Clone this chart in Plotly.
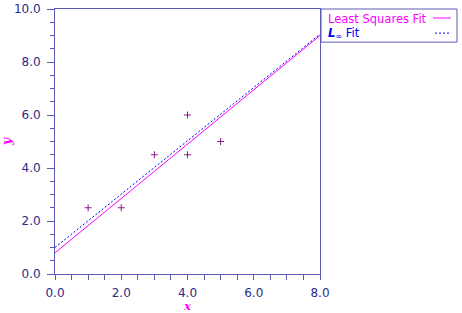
import plotly.graph_objects as go

x_pts = [1, 2, 3, 4, 4, 5]
y_pts = [2.5, 2.5, 4.5, 4.5, 6.0, 5.0]
fit_x = [0.0, 8.0]
ls_y = [0.8, 9.0]
linf_y = [1.0, 9.05]
x_ticks = [0, 2, 4, 6, 8]
y_ticks = [0, 2, 4, 6, 8, 10]

AXC = "#5a5ab4"
LBL = "#2b2b8a"
MAG = "#ff00ff"
BLU = "#0000ff"

fig = go.Figure()
fig.add_trace(go.Scatter(x=fit_x, y=ls_y, mode="lines", line=dict(color=MAG, width=1), showlegend=False))
fig.add_trace(go.Scatter(x=fit_x, y=linf_y, mode="lines", line=dict(color=BLU, width=1, dash="2px,2px"), showlegend=False))
fig.add_trace(go.Scatter(x=x_pts, y=y_pts, mode="markers",
                         marker=dict(symbol="cross-thin", size=5, line=dict(color="#8a1a8a", width=1)),
                         showlegend=False))

tickfont = dict(family="DejaVu Sans", size=12, color=LBL)
fig.update_layout(
    width=462, height=313,
    margin=dict(l=55, r=142, t=9, b=39),
    paper_bgcolor="white", plot_bgcolor="white",
    xaxis=dict(range=[0, 8], tickvals=x_ticks, ticktext=[f"{v:.1f}" for v in x_ticks],
               ticks="outside", ticklen=5, tickcolor=AXC, tickwidth=1, ticklabelstandoff=3,
               minor=dict(dtick=0.5, ticks="outside", ticklen=5, tickcolor=AXC),
               showline=True, linecolor=AXC, linewidth=1, mirror=True, automargin=False,
               showgrid=False, zeroline=False, tickfont=tickfont,
               title=dict(text="<b><i>x</i></b>", font=dict(family="DejaVu Serif", size=11, color=MAG), standoff=3)),
    yaxis=dict(range=[0, 10], tickvals=y_ticks, ticktext=[f"{v:.1f}" for v in y_ticks],
               ticks="outside", ticklen=7, tickcolor=AXC, tickwidth=1, ticklabelstandoff=4,
               minor=dict(dtick=0.5, ticks="outside", ticklen=4, tickcolor=AXC),
               showline=True, linecolor=AXC, linewidth=1, mirror=True, automargin=False,
               showgrid=False, zeroline=False, tickfont=tickfont,
               title=dict(text="<b><i>y</i></b>", font=dict(family="DejaVu Serif", size=12, color=MAG), standoff=6)),
)

# legend box drawn manually (samples on the right)
fig.add_shape(type="rect", xref="paper", yref="paper", x0=1.0038, x1=1.517, y0=0.875, y1=1.0,
              line=dict(color=AXC, width=1), fillcolor="white")
fig.add_annotation(xref="paper", yref="paper", x=1.022, y=0.964, xanchor="left", yanchor="middle",
                   text="Least Squares Fit", showarrow=False,
                   font=dict(family="DejaVu Sans", size=11.5, color=MAG))
fig.add_annotation(xref="paper", yref="paper", x=1.022, y=0.907, xanchor="left", yanchor="middle",
                   text="<b><i>L</i></b><sub>∞</sub> Fit", showarrow=False,
                   font=dict(family="DejaVu Sans", size=11.5, color=BLU))
fig.add_shape(type="line", xref="paper", yref="paper", x0=1.426, x1=1.494, y0=0.966, y1=0.966,
              line=dict(color=MAG, width=1))
fig.add_shape(type="line", xref="paper", yref="paper", x0=1.434, x1=1.494, y0=0.909, y1=0.909,
              line=dict(color=BLU, width=1, dash="2px,2px"))

fig.write_html("out.html")
